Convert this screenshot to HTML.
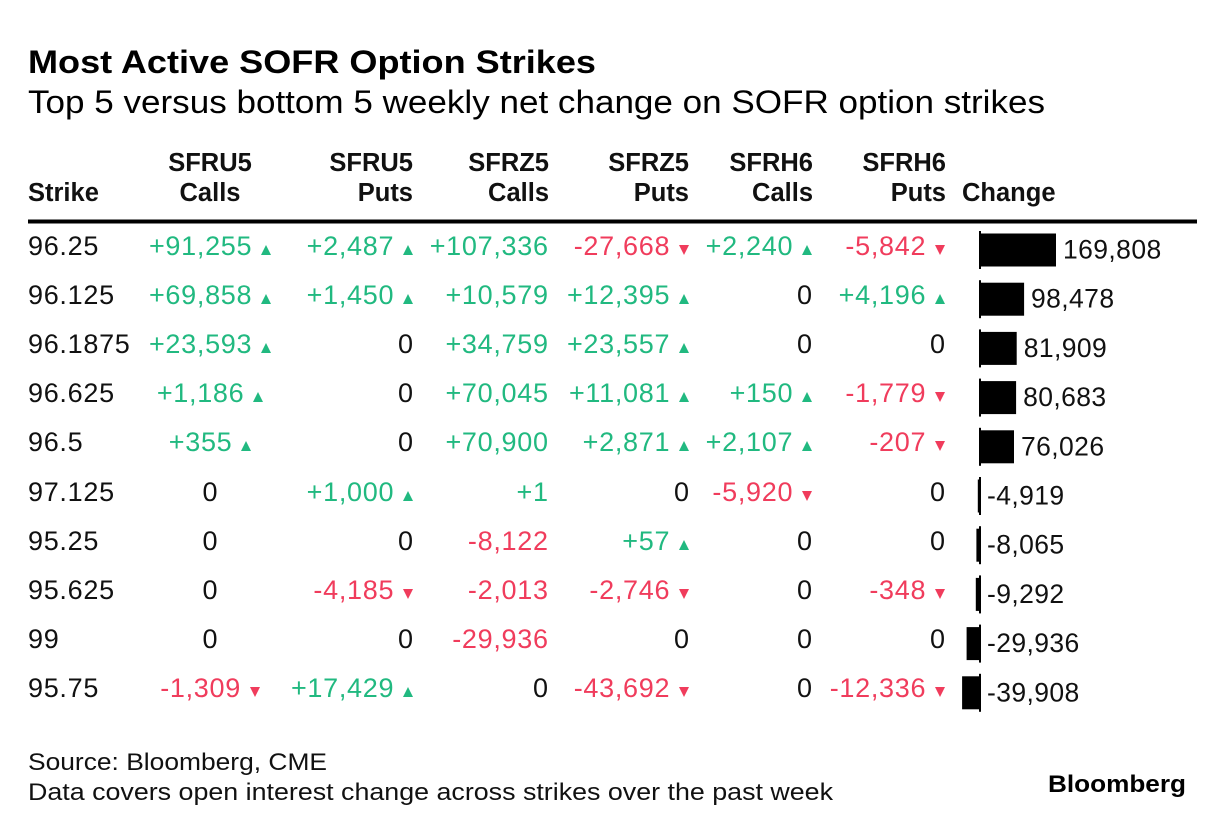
<!DOCTYPE html>
<html>
<head>
<meta charset="utf-8">
<style>
  html,body{margin:0;padding:0;background:#fff;}
  body{width:1225px;height:830px;position:relative;overflow:hidden;font-family:"Liberation Sans",Arial,Helvetica,sans-serif;color:#111;}
  svg{position:absolute;left:0;top:0;}
  .h{position:absolute;top:148.2px;font-weight:bold;font-size:25.5px;line-height:30px;color:#111;white-space:nowrap;}
  .row{position:absolute;left:0;width:1225px;height:26px;}
  .c{position:absolute;top:0;font-size:27px;line-height:26px;letter-spacing:0.7px;white-space:nowrap;color:#111;}
  .c span{margin-right:-0.7px;}
  .s{left:28px;}
  .c1{left:110px;width:200px;text-align:center;}
  .k2{right:812px;text-align:right;}
  .k3{right:677px;text-align:right;}
  .k4{right:536px;text-align:right;}
  .k5{right:413px;text-align:right;}
  .k6{right:280px;text-align:right;}
  .g{color:#21b980;}
  .rd{color:#f03c5c;}
  .u{display:inline-block;width:0;height:0;border-left:5.5px solid transparent;border-right:5.5px solid transparent;border-bottom:10px solid #21b980;margin-left:9.5px;}
  .d{display:inline-block;width:0;height:0;border-left:5.5px solid transparent;border-right:5.5px solid transparent;border-top:10px solid #f03c5c;margin-left:9.5px;}
</style>
</head>
<body>
<svg width="1225" height="830" viewBox="0 0 1225 830" xmlns="http://www.w3.org/2000/svg">
  <text x="28" y="73" font-family="Liberation Sans, Arial, sans-serif" font-size="32" font-weight="bold" fill="#000" textLength="568" lengthAdjust="spacingAndGlyphs">Most Active SOFR Option Strikes</text>
  <text x="28" y="113" font-family="Liberation Sans, Arial, sans-serif" font-size="32" fill="#000" textLength="1017" lengthAdjust="spacingAndGlyphs">Top 5 versus bottom 5 weekly net change on SOFR option strikes</text>
  <rect x="28" y="219.5" width="1169" height="4" fill="#000"/>

  <g fill="#000">
    <rect x="979" y="231" width="2" height="38"/>
    <rect x="979" y="280.2" width="2" height="38"/>
    <rect x="979" y="329.4" width="2" height="38"/>
    <rect x="979" y="378.6" width="2" height="38"/>
    <rect x="979" y="427.8" width="2" height="38"/>
    <rect x="979" y="477" width="2" height="38"/>
    <rect x="979" y="526.2" width="2" height="38"/>
    <rect x="979" y="575.4" width="2" height="38"/>
    <rect x="979" y="624.6" width="2" height="38"/>
    <rect x="979" y="673.8" width="2" height="38"/>
  </g>
  <g fill="#000">
    <rect x="980" y="233.5" width="76" height="33"/>
    <rect x="980" y="282.7" width="44.1" height="33"/>
    <rect x="980" y="331.9" width="36.7" height="33"/>
    <rect x="980" y="381.1" width="36.1" height="33"/>
    <rect x="980" y="430.3" width="34" height="33"/>
    <rect x="977.8" y="479.5" width="2.2" height="33"/>
    <rect x="976.4" y="528.7" width="3.6" height="33"/>
    <rect x="975.8" y="577.9" width="4.2" height="33"/>
    <rect x="966.6" y="627.1" width="13.4" height="33"/>
    <rect x="962.1" y="676.3" width="17.9" height="33"/>
  </g>
  <g font-family="Liberation Sans, Arial, sans-serif" font-size="26.5" fill="#111" letter-spacing="0.4">
    <text x="1063" y="258.5">169,808</text>
    <text x="1031" y="307.7">98,478</text>
    <text x="1023.7" y="356.9">81,909</text>
    <text x="1023.1" y="406.1">80,683</text>
    <text x="1021" y="455.3">76,026</text>
    <text x="987" y="504.5">-4,919</text>
    <text x="987" y="553.7">-8,065</text>
    <text x="987" y="602.9">-9,292</text>
    <text x="987" y="652.1">-29,936</text>
    <text x="987" y="701.3">-39,908</text>
  </g>

  <text x="28" y="770" font-family="Liberation Sans, Arial, sans-serif" font-size="24" fill="#111" textLength="299" lengthAdjust="spacingAndGlyphs">Source: Bloomberg, CME</text>
  <text x="28" y="800" font-family="Liberation Sans, Arial, sans-serif" font-size="24" fill="#111" textLength="805" lengthAdjust="spacingAndGlyphs">Data covers open interest change across strikes over the past week</text>
  <text x="1048" y="792" font-family="Liberation Sans, Arial, sans-serif" font-size="24" font-weight="bold" fill="#000" textLength="138" lengthAdjust="spacingAndGlyphs">Bloomberg</text>
</svg>

<div class="h" style="left:28px;"><br>Strike</div>
<div class="h" style="left:110px;width:200px;text-align:center;">SFRU5<br>Calls</div>
<div class="h" style="right:812px;text-align:right;">SFRU5<br>Puts</div>
<div class="h" style="right:676px;text-align:right;">SFRZ5<br>Calls</div>
<div class="h" style="right:536px;text-align:right;">SFRZ5<br>Puts</div>
<div class="h" style="right:412px;text-align:right;">SFRH6<br>Calls</div>
<div class="h" style="right:279px;text-align:right;">SFRH6<br>Puts</div>
<div class="h" style="left:962px;"><br>Change</div>

<div class="row" style="top:232.5px;">
  <div class="c s"><span>96.25</span></div>
  <div class="c c1"><span class="g">+91,255</span><b class="u"></b></div>
  <div class="c k2"><span class="g">+2,487</span><b class="u"></b></div>
  <div class="c k3"><span class="g">+107,336</span></div>
  <div class="c k4"><span class="rd">-27,668</span><b class="d"></b></div>
  <div class="c k5"><span class="g">+2,240</span><b class="u"></b></div>
  <div class="c k6"><span class="rd">-5,842</span><b class="d"></b></div>
</div>
<div class="row" style="top:281.7px;">
  <div class="c s"><span>96.125</span></div>
  <div class="c c1"><span class="g">+69,858</span><b class="u"></b></div>
  <div class="c k2"><span class="g">+1,450</span><b class="u"></b></div>
  <div class="c k3"><span class="g">+10,579</span></div>
  <div class="c k4"><span class="g">+12,395</span><b class="u"></b></div>
  <div class="c k5"><span>0</span></div>
  <div class="c k6"><span class="g">+4,196</span><b class="u"></b></div>
</div>
<div class="row" style="top:330.9px;">
  <div class="c s"><span>96.1875</span></div>
  <div class="c c1"><span class="g">+23,593</span><b class="u"></b></div>
  <div class="c k2"><span>0</span></div>
  <div class="c k3"><span class="g">+34,759</span></div>
  <div class="c k4"><span class="g">+23,557</span><b class="u"></b></div>
  <div class="c k5"><span>0</span></div>
  <div class="c k6"><span>0</span></div>
</div>
<div class="row" style="top:380.1px;">
  <div class="c s"><span>96.625</span></div>
  <div class="c c1"><span class="g">+1,186</span><b class="u"></b></div>
  <div class="c k2"><span>0</span></div>
  <div class="c k3"><span class="g">+70,045</span></div>
  <div class="c k4"><span class="g">+11,081</span><b class="u"></b></div>
  <div class="c k5"><span class="g">+150</span><b class="u"></b></div>
  <div class="c k6"><span class="rd">-1,779</span><b class="d"></b></div>
</div>
<div class="row" style="top:429.3px;">
  <div class="c s"><span>96.5</span></div>
  <div class="c c1"><span class="g">+355</span><b class="u"></b></div>
  <div class="c k2"><span>0</span></div>
  <div class="c k3"><span class="g">+70,900</span></div>
  <div class="c k4"><span class="g">+2,871</span><b class="u"></b></div>
  <div class="c k5"><span class="g">+2,107</span><b class="u"></b></div>
  <div class="c k6"><span class="rd">-207</span><b class="d"></b></div>
</div>
<div class="row" style="top:478.5px;">
  <div class="c s"><span>97.125</span></div>
  <div class="c c1"><span>0</span></div>
  <div class="c k2"><span class="g">+1,000</span><b class="u"></b></div>
  <div class="c k3"><span class="g">+1</span></div>
  <div class="c k4"><span>0</span></div>
  <div class="c k5"><span class="rd">-5,920</span><b class="d"></b></div>
  <div class="c k6"><span>0</span></div>
</div>
<div class="row" style="top:527.7px;">
  <div class="c s"><span>95.25</span></div>
  <div class="c c1"><span>0</span></div>
  <div class="c k2"><span>0</span></div>
  <div class="c k3"><span class="rd">-8,122</span></div>
  <div class="c k4"><span class="g">+57</span><b class="u"></b></div>
  <div class="c k5"><span>0</span></div>
  <div class="c k6"><span>0</span></div>
</div>
<div class="row" style="top:576.9px;">
  <div class="c s"><span>95.625</span></div>
  <div class="c c1"><span>0</span></div>
  <div class="c k2"><span class="rd">-4,185</span><b class="d"></b></div>
  <div class="c k3"><span class="rd">-2,013</span></div>
  <div class="c k4"><span class="rd">-2,746</span><b class="d"></b></div>
  <div class="c k5"><span>0</span></div>
  <div class="c k6"><span class="rd">-348</span><b class="d"></b></div>
</div>
<div class="row" style="top:626.1px;">
  <div class="c s"><span>99</span></div>
  <div class="c c1"><span>0</span></div>
  <div class="c k2"><span>0</span></div>
  <div class="c k3"><span class="rd">-29,936</span></div>
  <div class="c k4"><span>0</span></div>
  <div class="c k5"><span>0</span></div>
  <div class="c k6"><span>0</span></div>
</div>
<div class="row" style="top:675.3px;">
  <div class="c s"><span>95.75</span></div>
  <div class="c c1"><span class="rd">-1,309</span><b class="d"></b></div>
  <div class="c k2"><span class="g">+17,429</span><b class="u"></b></div>
  <div class="c k3"><span>0</span></div>
  <div class="c k4"><span class="rd">-43,692</span><b class="d"></b></div>
  <div class="c k5"><span>0</span></div>
  <div class="c k6"><span class="rd">-12,336</span><b class="d"></b></div>
</div>
</body>
</html>
